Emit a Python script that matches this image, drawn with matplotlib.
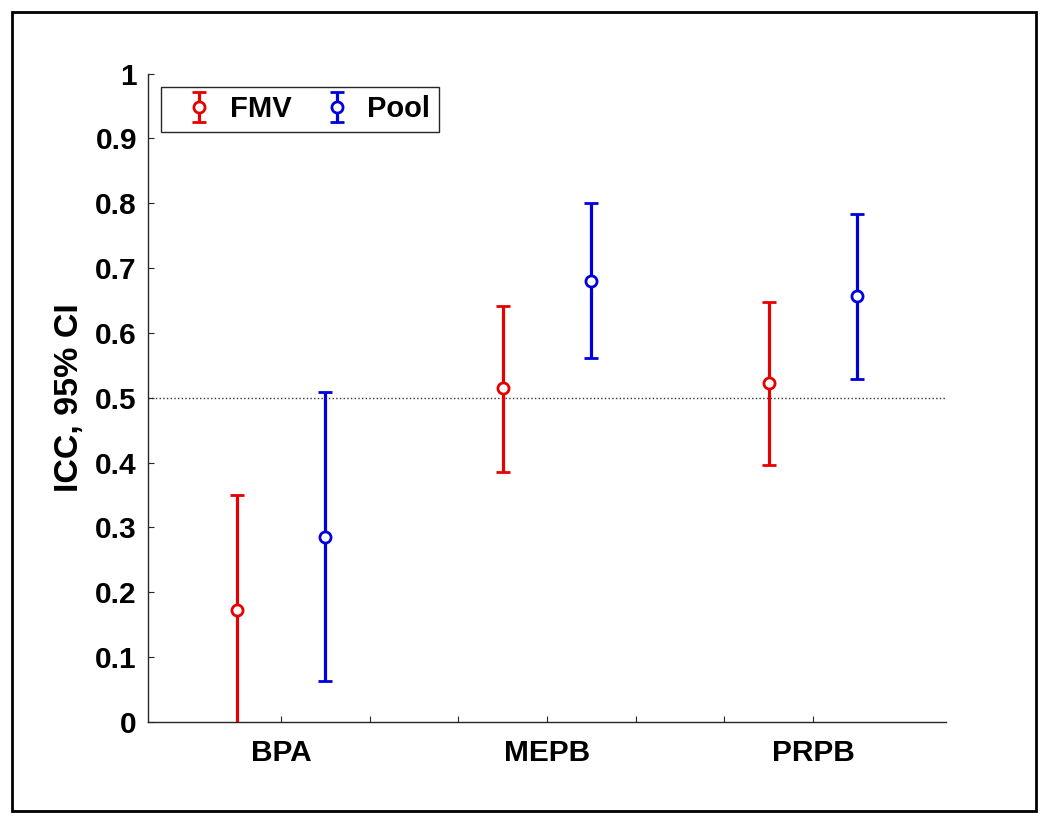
import matplotlib
matplotlib.use('Agg')
import matplotlib.pyplot as plt
from matplotlib.patches import Rectangle
from matplotlib.legend_handler import HandlerErrorbar

plt.rcParams['font.family'] = ['Liberation Sans', 'DejaVu Sans']
plt.rcParams['font.weight'] = 'bold'

compounds = ['BPA', 'MEPB', 'PRPB']
fmv_icc = [0.173, 0.515, 0.522]
fmv_low = [-0.05, 0.386, 0.396]
fmv_high = [0.350, 0.641, 0.648]
pool_icc = [0.286, 0.680, 0.657]
pool_low = [0.063, 0.561, 0.529]
pool_high = [0.509, 0.800, 0.784]

centers = [2, 5, 8]
red = '#e60000'
blue = '#0000dc'

fig = plt.figure(figsize=(10.5, 8.24), dpi=100)
ax = fig.add_axes([148/1050, 1 - 722/824, (946 - 148)/1050, (722 - 73.5)/824])

# outer border round the whole figure
fig.patches.append(Rectangle((12/1050, 1 - 811/824), 1024/1050, 799/824,
                             transform=fig.transFigure, fill=False,
                             edgecolor='black', linewidth=2))

ax.axhline(0.5, color='#333333', linestyle=':', linewidth=1, zorder=1)

x_fmv = [c - 0.5 for c in centers]
x_pool = [c + 0.5 for c in centers]
err_fmv = [[v - lo for v, lo in zip(fmv_icc, fmv_low)], [hi - v for v, hi in zip(fmv_icc, fmv_high)]]
err_pool = [[v - lo for v, lo in zip(pool_icc, pool_low)], [hi - v for v, hi in zip(pool_icc, pool_high)]]

style = dict(fmt='o', mfc='white', ms=8, mew=2, elinewidth=2.3, capsize=4.7, capthick=2.3, zorder=3)
ax.errorbar(x_fmv, fmv_icc, yerr=err_fmv, color=red, mec=red, label='FMV', **style)
ax.errorbar(x_pool, pool_icc, yerr=err_pool, color=blue, mec=blue, label='Pool', **style)

ax.set_xlim(0.5, 9.5)
ax.set_ylim(0, 1)
ax.set_xticks(range(2, 9))
ax.set_xticklabels(['BPA', '', '', 'MEPB', '', '', 'PRPB'])
yt = [i / 10 for i in range(11)]
ax.set_yticks(yt)
ax.set_yticklabels(['0'] + [f'{v:.1f}' for v in yt[1:-1]] + ['1'])
ax.tick_params(direction='in', length=4, width=0.8, color='#262626', labelsize=21.5)
ax.tick_params(axis='x', pad=12)
ax.tick_params(axis='y', pad=8)
for lbl in ax.get_xticklabels() + ax.get_yticklabels():
    lbl.set_fontweight('bold')

for s in ['top', 'right']:
    ax.spines[s].set_visible(False)
for s in ['left', 'bottom']:
    ax.spines[s].set_color('#262626')
    ax.spines[s].set_linewidth(1)

ax.set_ylabel('ICC, 95% CI', fontsize=24.5, fontweight='bold', labelpad=7)

leg = ax.legend(loc='upper left', ncol=2, fontsize=21, frameon=True, fancybox=False,
                framealpha=1, edgecolor='#262626', borderpad=0.3, borderaxespad=0.45,
                handlelength=2.0, handletextpad=0.05, columnspacing=0.55,
                handler_map={type(ax.containers[0]): HandlerErrorbar(xerr_size=0.5, yerr_size=0.52)})
leg.get_frame().set_linewidth(1)
for t in leg.get_texts():
    t.set_fontweight('bold')

fig.savefig('out.png', dpi=100)
